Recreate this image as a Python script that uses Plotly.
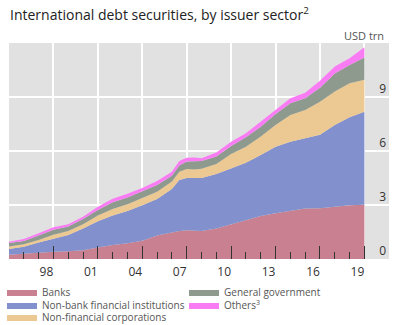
import plotly.graph_objects as go

years = [1996, 1997, 1998, 1999, 2000, 2001, 2002, 2003, 2004, 2005, 2006, 2007, 2007.5,
         2008, 2008.5, 2009, 2010, 2011, 2012, 2013, 2014, 2015, 2016, 2017, 2018, 2019, 2020]

banks = [0.24, 0.30, 0.33, 0.40, 0.43, 0.48, 0.64, 0.78, 0.87, 1.02, 1.30, 1.48, 1.56,
         1.60, 1.57, 1.55, 1.70, 1.94, 2.17, 2.39, 2.54, 2.69, 2.81, 2.82, 2.92, 2.98, 3.02]
nbfi = [0.31, 0.38, 0.58, 0.71, 0.90, 1.22, 1.46, 1.63, 1.80, 1.96, 2.03, 2.41, 2.83,
        2.90, 2.91, 2.95, 3.02, 3.10, 3.18, 3.39, 3.70, 3.83, 3.89, 4.08, 4.53, 4.89, 5.16]
nfc = [0.15, 0.14, 0.15, 0.24, 0.23, 0.23, 0.31, 0.37, 0.37, 0.39, 0.41, 0.41, 0.46,
       0.50, 0.49, 0.52, 0.56, 0.79, 0.89, 1.02, 1.20, 1.48, 1.58, 1.84, 1.85, 1.89, 1.78]
gov = [0.19, 0.18, 0.24, 0.27, 0.24, 0.29, 0.31, 0.37, 0.37, 0.37, 0.37, 0.33, 0.35,
       0.41, 0.44, 0.43, 0.41, 0.45, 0.52, 0.55, 0.62, 0.65, 0.65, 0.78, 1.00, 1.02, 1.24]
others = [0.07, 0.11, 0.13, 0.14, 0.13, 0.13, 0.18, 0.20, 0.21, 0.21, 0.22, 0.22, 0.24,
          0.22, 0.23, 0.15, 0.22, 0.24, 0.22, 0.28, 0.22, 0.28, 0.31, 0.38, 0.40, 0.37, 0.56]

major_ticks = [1999, 2002, 2005, 2008, 2011, 2014, 2017, 2020]
major_labels = ["98", "01", "04", "07", "10", "13", "16", "19"]
minor_ticks = [1997, 1998, 2000, 2001, 2003, 2004, 2006, 2007, 2009, 2010, 2012, 2013,
               2015, 2016, 2018, 2019]
y_ticks = [0, 3, 6, 9]

series = [
    ("Banks", banks, "#C98090", "legend"),
    ("Non-bank financial institutions", nbfi, "#8291CD", "legend2"),
    ("Non-financial corporations", nfc, "#ECC892", "legend3"),
    ("General government", gov, "#8F9A8F", "legend"),
    ("Others<sup>3</sup>", others, "#F97CF5", "legend2"),
]

fig = go.Figure()
for name, vals, col, lg in series:
    fig.add_trace(go.Scatter(
        x=years, y=vals, name=name, stackgroup="one", mode="lines",
        line=dict(width=0, color=col), fillcolor=col, legend=lg,
        hoverinfo="skip"))

# pixel helpers for paper coords (plot area: x 9..389, y 43..259)
def px_x(p):
    return (p - 9) / 380.0

def px_y(p):
    return (259 - p) / 216.0

legend_common = dict(orientation="h", xanchor="left", yanchor="middle",
                     font=dict(size=10, color="#555"), bgcolor="rgba(0,0,0,0)",
                     entrywidth=137, entrywidthmode="pixels", traceorder="normal")

fig.update_layout(
    width=401, height=325,
    margin=dict(l=9, r=12, t=43, b=66, autoexpand=False),
    paper_bgcolor="white", plot_bgcolor="#E1E1E1",
    font=dict(family="Open Sans", color="#333"),
    showlegend=True,
    legend=dict(x=px_x(2), y=px_y(292), **legend_common),
    legend2=dict(x=px_x(2), y=px_y(305), **legend_common),
    legend3=dict(x=px_x(2), y=px_y(317), **legend_common),
    xaxis=dict(
        range=[1996, 2021.66], tickmode="array", tickvals=major_ticks, ticktext=major_labels,
        ticks="inside", ticklen=13, tickwidth=1.3, tickcolor="#333",
        showgrid=True, gridcolor="white", gridwidth=1.5,
        zeroline=False, showline=False, ticklabelshift=-7, ticklabelstandoff=4,
        tickfont=dict(size=12, color="#333"),
        minor=dict(tickmode="array", tickvals=minor_ticks, ticks="inside", ticklen=7,
                   tickwidth=1.3, tickcolor="#333", showgrid=False),
    ),
    yaxis=dict(
        range=[0, 12], side="right", tickmode="array", tickvals=y_ticks,
        ticklabelposition="inside top", ticks="",
        showgrid=True, gridcolor="white", gridwidth=1.5,
        zeroline=False, showline=False,
        tickfont=dict(size=12, color="#333"),
    ),
    annotations=[
        dict(text="International debt securities, by issuer sector<sup>2</sup>",
             xref="paper", yref="paper", x=px_x(8), y=px_y(14),
             xanchor="left", yanchor="middle", showarrow=False,
             font=dict(size=14, color="#222")),
        dict(text="USD trn", xref="paper", yref="paper", x=px_x(386), y=px_y(35),
             xanchor="right", yanchor="middle", showarrow=False,
             font=dict(size=11, color="#555")),
    ],
)

fig.write_html("out.html")
